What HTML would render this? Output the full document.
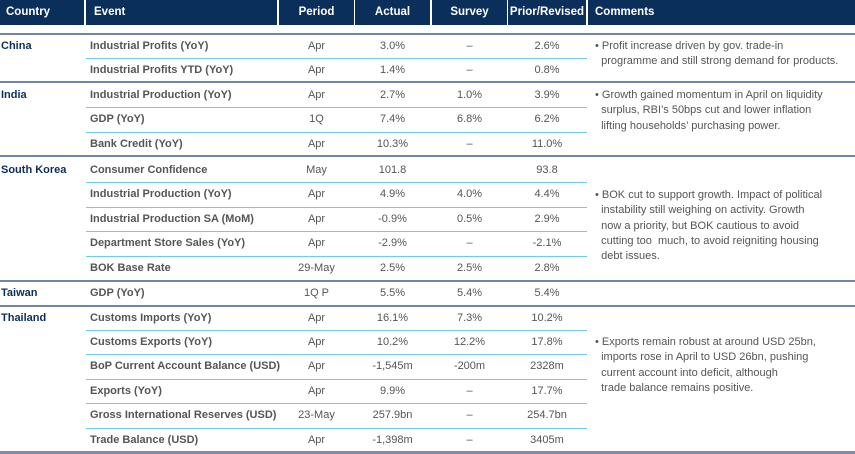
<!DOCTYPE html>
<html><head><meta charset="utf-8"><style>
body{margin:0;width:855px;height:454px;background:#fff;position:relative;overflow:hidden;font-family:"Liberation Sans",sans-serif;}
.hd{position:absolute;top:0;height:25px;background:#0b2f5b;color:#fff;font-weight:bold;font-size:11.5px;line-height:25px;}
.t{position:absolute;font-size:11px;color:#555;line-height:14px;white-space:nowrap;}
.c{text-align:center;}
.b{font-weight:bold;}
.cn{color:#0b2f5b;font-weight:bold;}
.ln{position:absolute;}
.cm{position:absolute;left:595px;font-size:11px;color:#555;line-height:15.3px;width:260px;}
</style></head><body>
<div class="hd" style="left:0;width:84px;padding-left:6px;box-sizing:border-box">Country</div>
<div class="hd" style="left:86px;width:191px;padding-left:8px;box-sizing:border-box">Event</div>
<div class="hd c" style="left:279px;width:75px">Period</div>
<div class="hd c" style="left:355px;width:75px">Actual</div>
<div class="hd c" style="left:432px;width:75px">Survey</div>
<div class="hd c" style="left:508px;width:78px">Prior/Revised</div>
<div class="hd" style="left:588px;width:267px;padding-left:7px;box-sizing:border-box">Comments</div>

<div class="cm" style="top:39px">• Profit increase driven by gov. trade-in<br>&nbsp;&nbsp;programme and still strong demand for products.</div>
<div class="cm" style="top:88px">• Growth gained momentum in April on liquidity<br>&nbsp;&nbsp;surplus, RBI’s 50bps cut and lower inflation<br>&nbsp;&nbsp;lifting households’ purchasing power.</div>
<div class="cm" style="top:188px">• BOK cut to support growth. Impact of political<br>&nbsp;&nbsp;instability still weighing on activity. Growth<br>&nbsp;&nbsp;now a priority, but BOK cautious to avoid<br>&nbsp;&nbsp;cutting too &nbsp;much, to avoid reigniting housing<br>&nbsp;&nbsp;debt issues.</div>
<div class="cm" style="top:335px">• Exports remain robust at around USD 25bn,<br>&nbsp;&nbsp;imports rose in April to USD 26bn, pushing<br>&nbsp;&nbsp;current account into deficit, although<br>&nbsp;&nbsp;trade balance remains positive.</div>

<script>
const rows=[
["China","Industrial Profits (YoY)","Apr","3.0%","–","2.6%"],
["","Industrial Profits YTD (YoY)","Apr","1.4%","–","0.8%"],
["India","Industrial Production (YoY)","Apr","2.7%","1.0%","3.9%"],
["","GDP (YoY)","1Q","7.4%","6.8%","6.2%"],
["","Bank Credit (YoY)","Apr","10.3%","–","11.0%"],
["South Korea","Consumer Confidence","May","101.8","","93.8"],
["","Industrial Production (YoY)","Apr","4.9%","4.0%","4.4%"],
["","Industrial Production SA (MoM)","Apr","-0.9%","0.5%","2.9%"],
["","Department Store Sales (YoY)","Apr","-2.9%","–","-2.1%"],
["","BOK Base Rate","29-May","2.5%","2.5%","2.8%"],
["Taiwan","GDP (YoY)","1Q P","5.5%","5.4%","5.4%"],
["Thailand","Customs Imports (YoY)","Apr","16.1%","7.3%","10.2%"],
["","Customs Exports (YoY)","Apr","10.2%","12.2%","17.8%"],
["","BoP Current Account Balance (USD)","Apr","-1,545m","-200m","2328m"],
["","Exports (YoY)","Apr","9.9%","–","17.7%"],
["","Gross International Reserves (USD)","23-May","257.9bn","–","254.7bn"],
["","Trade Balance (USD)","Apr","-1,398m","–","3405m"]];
const ys=[46,70,95,119,144,170,194,219,243,268,293,318,342,366,391,415,440];
const majors=[34,82,156,281,306];
const cols=[[279,75],[355,75],[432,75],[508,78]];
function add(el){document.body.appendChild(el);return el;}
majors.forEach(y=>{
  const l=add(document.createElement('div'));
  l.className='ln';
  
  
  l.style.cssText=`left:0;width:855px;top:${y-1}px;height:2px;background:#6f87a4;`;
});
const bl=add(document.createElement('div'));
bl.className='ln';


bl.style.cssText='left:0;width:855px;top:451px;height:3px;background:#7d8fa6;';
rows.forEach((r,i)=>{
  const y=ys[i];
  if(i>0&&!r[0]&&i<rows.length){
    const m=add(document.createElement('div'));
    m.className='ln';
    
    
    const my=Math.round((ys[i-1]+y)/2);
    m.style.cssText=`left:86px;width:501px;top:${my}px;height:1px;background:#6ccdef;`;
  }
  if(r[0]){
    const c=add(document.createElement('div'));
    c.className='t cn';
    
    
    c.style.cssText=`left:1px;top:${y-7}px;`;
    c.textContent=r[0];
  }
  const e=add(document.createElement('div'));
  e.className='t b';
  
  
  e.style.cssText=`left:90px;top:${y-7}px;`;
  e.textContent=r[1];
  for(let k=0;k<4;k++){
    const v=add(document.createElement('div'));
    v.className='t c';
    
    
    v.style.cssText=`left:${cols[k][0]}px;width:${cols[k][1]}px;top:${y-7}px;`;
    v.textContent=r[k+2];
  }
});
</script>
</body></html>
